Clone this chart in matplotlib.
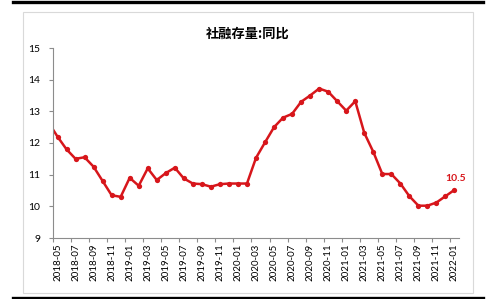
import numpy as np
import matplotlib
matplotlib.use("Agg")
import matplotlib.pyplot as plt
from matplotlib.patches import Rectangle
from matplotlib.lines import Line2D

plt.rcParams['font.family'] = ['Lato', 'Noto Sans CJK SC', 'DejaVu Sans']

# 月份 (2018-04 只用于左边缘被截断的线段)
months = ['2018-04',
          '2018-05', '2018-06', '2018-07', '2018-08', '2018-09', '2018-10',
          '2018-11', '2018-12', '2019-01', '2019-02', '2019-03', '2019-04',
          '2019-05', '2019-06', '2019-07', '2019-08', '2019-09', '2019-10',
          '2019-11', '2019-12', '2020-01', '2020-02', '2020-03', '2020-04',
          '2020-05', '2020-06', '2020-07', '2020-08', '2020-09', '2020-10',
          '2020-11', '2020-12', '2021-01', '2021-02', '2021-03', '2021-04',
          '2021-05', '2021-06', '2021-07', '2021-08', '2021-09', '2021-10',
          '2021-11', '2021-12', '2022-01']
# 社融存量同比 (%)
yoy = [12.65,
       12.2, 11.8, 11.5, 11.55, 11.25, 10.8,
       10.35, 10.3, 10.9, 10.65, 11.2, 10.83,
       11.05, 11.22, 10.88, 10.72, 10.7, 10.62,
       10.7, 10.72, 10.72, 10.72, 11.53, 12.02,
       12.5, 12.8, 12.92, 13.3, 13.5, 13.72,
       13.62, 13.32, 13.02, 13.32, 12.32, 11.72,
       11.02, 11.02, 10.72, 10.32, 10.02, 10.02,
       10.12, 10.32, 10.52]
title = '社融存量:同比'
last_label = '10.5'

red = '#D7161B'
grey = '#8C8C8C'

fig = plt.figure(figsize=(5.0, 2.99), dpi=100)

# 外框和上下黑线
fig.patches.append(Rectangle((23 / 500, 1 - 293 / 299), 450 / 500, 281 / 299,
                             transform=fig.transFigure, fill=False,
                             edgecolor='#D9D9D9', lw=0.8))
fig.lines.append(Line2D([13 / 500, 483 / 500], [1 - 1.5 / 299, 1 - 1.5 / 299],
                        transform=fig.transFigure, color='black', lw=2.4))
fig.lines.append(Line2D([13 / 500, 483 / 500], [1 - 297.5 / 299, 1 - 297.5 / 299],
                        transform=fig.transFigure, color='black', lw=2.4))

ax = fig.add_axes([53 / 500, 1 - 238 / 299, 406 / 500, 190 / 299])
x = np.arange(len(months)) - 1
ax.plot(x, yoy, color=red, lw=1.8, marker='o', markersize=3.8,
        markeredgewidth=0, clip_on=True)
ax.set_xlim(-0.5, len(months) - 1.5)
ax.set_ylim(9, 15)
ax.set_yticks(range(9, 16))
ax.tick_params(axis='y', labelsize=7.5, length=3, color=grey, width=0.8, pad=6)

# 刻度线在类别之间, 标签在类别中心
ax.set_xticks(np.arange(-0.5, len(months) - 1, 2))
ax.set_xticklabels([])
ax.tick_params(axis='x', which='major', length=3, color=grey, width=0.8)
lbl_pos = np.arange(0, len(months) - 1, 2)
ax.set_xticks(lbl_pos, minor=True)
ax.set_xticklabels([months[i + 1] for i in lbl_pos], minor=True, rotation=90)
ax.tick_params(axis='x', which='minor', length=0, labelsize=7, pad=4)

for s in ['top', 'right']:
    ax.spines[s].set_visible(False)
for s in ['left', 'bottom']:
    ax.spines[s].set_color(grey)
    ax.spines[s].set_linewidth(0.8)

ax.annotate(last_label, (x[-1], yoy[-1]), xytext=(1, 5), textcoords='offset points',
            ha='center', va='bottom', color=red, fontsize=7.5, fontweight='bold')

fig.text(248 / 500, 1 - 34 / 299, title, ha='center', va='center',
         fontsize=9.5, fontweight='bold', family=['Noto Sans CJK SC', 'DejaVu Sans'])

fig.savefig('out.png', dpi=100)
